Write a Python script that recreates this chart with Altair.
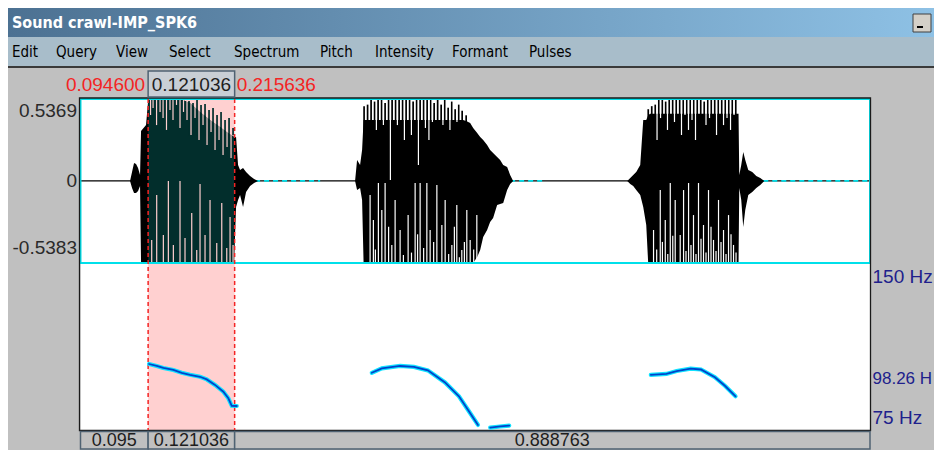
import altair as alt
import pandas as pd

# ---------------- data ----------------
WINDOW_TITLE = "Sound crawl-IMP_SPK6"
MENU_ITEMS = ["Edit", "Query", "View", "Select", "Spectrum", "Pitch", "Intensity", "Formant", "Pulses"]
MENU_X = [4, 48, 108, 161, 226, 312, 367, 444, 521]

DURATION = 1.104399
SEL_START = 0.0946
SEL_END = 0.215636
AMP_MAX = 0.5369
AMP_MIN = -0.5383
F0_TOP = 150
F0_BOTTOM = 75
F0_MARK = 98.26

TOP_LABELS = ["0.094600", "0.121036", "0.215636"]
BOTTOM_LABELS = ["0.095", "0.121036", "0.888763"]
AMP_LABELS = ["0.5369", "0", "-0.5383"]
F0_LABELS = ["150 Hz", "98.26 H", "75 Hz"]

# waveform envelope: main mass (time s, upper amplitude, lower amplitude)
ENV_T = [0.0693, 0.0721, 0.0749, 0.0777, 0.0805, 0.0833, 0.0847, 0.0917, 0.0947, 0.0973, 0.1392, 0.1532,
         0.1672, 0.1812, 0.1952, 0.2064, 0.2148, 0.2176, 0.2204, 0.2232, 0.2274, 0.2316, 0.2372, 0.2428, 0.2484,
         0.3841, 0.3869, 0.3911, 0.3939, 0.3960, 0.3995, 0.5353, 0.5409, 0.5451, 0.5493, 0.5549, 0.5591,
         0.5633, 0.5688, 0.5730, 0.5772, 0.5828, 0.5870, 0.5913, 0.5968, 0.6010, 0.6052,
         0.7648, 0.7690, 0.7732, 0.7774, 0.7830, 0.7872, 0.7914, 0.7941, 0.7969, 0.8011, 0.9205, 0.9215,
         0.9243, 0.9271, 0.9299, 0.9341, 0.9397, 0.9453, 0.9509, 0.9565]
ENV_TOP = [0, 0.058, 0.117, 0.111, 0.085, 0.039, 0.327, 0.366, 0.530, 0.537, 0.537, 0.511,
           0.451, 0.399, 0.353, 0.314, 0.288, 0.288, 0.104, 0.071, 0.085, 0.058, 0.032, 0.012, 0,
           0, 0.137, 0.104, 0.203, 0.400, 0.400, 0.400, 0.390, 0.380, 0.347, 0.314, 0.288,
           0.268, 0.235, 0.203, 0.183, 0.157, 0.137, 0.104, 0.091, 0.039, 0,
           0, 0.019, 0.039, 0.058, 0.104, 0.399, 0.400, 0.430, 0.440, 0.440, 0.440, 0.039,
           0.104, 0.189, 0.137, 0.071, 0.058, 0.032, 0.019, 0]
ENV_BOT = [0, -0.047, -0.079, -0.079, -0.066, -0.033, -0.538, -0.538, -0.538, -0.538, -0.538, -0.538,
           -0.538, -0.538, -0.538, -0.538, -0.538, -0.171, -0.125, -0.092, -0.171, -0.073, -0.033, -0.014, 0,
           0, -0.060, -0.047, -0.125, -0.538, -0.538, -0.538, -0.538, -0.538, -0.538, -0.499, -0.453,
           -0.368, -0.322, -0.269, -0.243, -0.158, -0.151, -0.145, -0.060, -0.020, 0,
           0, -0.020, -0.033, -0.060, -0.092, -0.171, -0.289, -0.538, -0.538, -0.538, -0.538, -0.047,
           -0.125, -0.302, -0.191, -0.092, -0.073, -0.047, -0.027, 0]

# single-period peaks rising above the main mass
SPIKE_T = [0.1518, 0.1574, 0.1630, 0.1686, 0.1742, 0.1798, 0.1854, 0.1910, 0.1966, 0.2022, 0.2078, 0.2134,
           0.3967, 0.4016, 0.4065, 0.4114, 0.4163, 0.4212, 0.4261, 0.4310, 0.4359, 0.4408, 0.4457, 0.4506,
           0.4555, 0.4604, 0.4653, 0.4702, 0.4751, 0.4800, 0.4849, 0.4898, 0.4947, 0.4996, 0.5045, 0.5094,
           0.5143, 0.5192, 0.5241, 0.5290, 0.5339, 0.5395,
           0.7942, 0.7991, 0.8040, 0.8089, 0.8138, 0.8186, 0.8235, 0.8284, 0.8333, 0.8382, 0.8431, 0.8480,
           0.8529, 0.8578, 0.8627, 0.8676, 0.8725, 0.8774, 0.8823, 0.8872, 0.8921, 0.8970, 0.9019, 0.9068,
           0.9117, 0.9166]
SPIKE_A = [0.524, 0.511, 0.530, 0.498, 0.504, 0.465, 0.478, 0.432, 0.452, 0.399, 0.412, 0.347,
           0.49, 0.50, 0.537, 0.52, 0.537, 0.537, 0.51, 0.537, 0.537, 0.537, 0.53, 0.537,
           0.537, 0.537, 0.52, 0.537, 0.537, 0.537, 0.537, 0.537, 0.51, 0.537, 0.50, 0.537,
           0.48, 0.52, 0.47, 0.50, 0.46, 0.43,
           0.47, 0.49, 0.50, 0.537, 0.537, 0.52, 0.537, 0.537, 0.537, 0.537, 0.53, 0.537,
           0.537, 0.537, 0.537, 0.537, 0.52, 0.537, 0.537, 0.537, 0.537, 0.53, 0.537, 0.537,
           0.537, 0.537]

# light gaps between glottal pulses (from top edge down to amplitude / from bottom edge up to amplitude)
GAP_TOP_T = [0.0980, 0.1015, 0.1064, 0.1113, 0.1155, 0.1203, 0.1252, 0.1294, 0.1343, 0.1392, 0.1441, 0.1490,
             0.1546, 0.1602, 0.1658, 0.1714, 0.1770, 0.1826, 0.1882, 0.1938, 0.1994, 0.2050, 0.2106,
             0.4139, 0.4237, 0.4335, 0.4433, 0.4531, 0.4629, 0.4727, 0.4825, 0.4874, 0.4923, 0.5070, 0.5168,
             0.5266,
             0.8065, 0.8114, 0.8211, 0.8309, 0.8407, 0.8456, 0.8505, 0.8554, 0.8603, 0.8750, 0.8799, 0.8897,
             0.8995, 0.9044, 0.9093, 0.9142]
GAP_TOP_A = [0.432, 0.478, 0.366, 0.452, 0.412, 0.334, 0.465, 0.399, 0.498, 0.347, 0.452, 0.399,
             0.301, 0.412, 0.268, 0.366, 0.235, 0.321, 0.203, 0.268, 0.170, 0.222, 0.150,
             0.334, 0.366, 0.006, 0.366, 0.268, 0.301, 0.104, 0.347, 0.268, 0.386, 0.366, 0.334,
             0.386,
             0.268, 0.412, 0.334, 0.386, 0.301, 0.432, 0.334, 0.399, 0.268, 0.366, 0.412, 0.301,
             0.366, 0.412, 0.334, 0.432]
GAP_BOT_T = [0.0996, 0.1066, 0.1159, 0.1229, 0.1299, 0.1392, 0.1462, 0.1556, 0.1626, 0.1672, 0.1742, 0.1812,
             0.1906, 0.1976, 0.2046, 0.2092, 0.2134,
             0.4051, 0.4097, 0.4125, 0.4167, 0.4215, 0.4261, 0.4310, 0.4355, 0.4401, 0.4471, 0.4517, 0.4583,
             0.4630, 0.4681, 0.4715, 0.4751, 0.4800, 0.4845, 0.4891, 0.4940, 0.4985, 0.5055, 0.5101, 0.5150,
             0.5195, 0.5230, 0.5264, 0.5300, 0.5334, 0.5370, 0.5404, 0.5451, 0.5500, 0.5544,
             0.8016, 0.8060, 0.8110, 0.8140, 0.8180, 0.8215, 0.8250, 0.8285, 0.8319, 0.8389, 0.8436, 0.8470,
             0.8506, 0.8540, 0.8575, 0.8610, 0.8645, 0.8680, 0.8715, 0.8750, 0.8785, 0.8820, 0.8855, 0.8890,
             0.8925, 0.8960, 0.8995, 0.9030, 0.9065, 0.9100, 0.9135, 0.9170]
GAP_BOT_A = [-0.387, -0.092, -0.355, -0.001, -0.420, -0.001, -0.374, -0.210, -0.453, -0.020, -0.355, -0.125,
             -0.407, -0.145, -0.440, -0.237, -0.420,
             -0.092, -0.256, -0.450, -0.014, -0.191, -0.014, -0.300, -0.420, -0.125, -0.322, -0.486, -0.224,
             -0.470, -0.014, -0.350, -0.014, -0.440, -0.014, -0.322, -0.400, -0.027, -0.289, -0.125, -0.480,
             -0.420, -0.300, -0.158, -0.500, -0.453, -0.400, -0.191, -0.387, -0.450, -0.224,
             -0.322, -0.450, -0.060, -0.400, -0.256, -0.480, -0.014, -0.360, -0.125, -0.355, -0.060, -0.460,
             -0.014, -0.420, -0.224, -0.480, -0.014, -0.380, -0.289, -0.470, -0.060, -0.300, -0.387, -0.460,
             -0.125, -0.400, -0.322, -0.480, -0.224, -0.350, -0.420, -0.470]

# near-silent stretches drawn in cyan along the zero line
CYAN_T0 = [0.2442, 0.6010, 0.9551]
CYAN_T1 = [0.3352, 0.6500, 1.1034]

# pitch contour
PITCH_SEG = [1] * 13 + [2] * 9 + [3] * 3 + [4] * 8
PITCH_T = [0.0959, 0.1066, 0.1159, 0.1299, 0.1416, 0.1532, 0.1672, 0.1766, 0.1882, 0.1998, 0.2068, 0.2116, 0.2186,
           0.4075, 0.4215, 0.4471, 0.4664, 0.4859, 0.5099, 0.5294, 0.5438, 0.5560,
           0.5731, 0.5871, 0.5997,
           0.7978, 0.8196, 0.8340, 0.8535, 0.8679, 0.8874, 0.9018, 0.9163]
PITCH_HZ = [105.0, 104.1, 103.2, 102.3, 101.0, 100.1, 99.2, 98.0, 95.5, 92.4, 89.4, 86.0, 85.9,
            101.0, 103.0, 104.1, 103.7, 102.1, 96.6, 90.3, 83.3, 77.3,
            76.1, 76.6, 77.0,
            100.1, 100.5, 101.8, 102.9, 102.5, 99.0, 95.0, 90.3]

# ---------------- layout ----------------
W, H = 926, 442
PANEL_X0, PANEL_X1 = 72.5, 862.0
WAVE_Y0, WAVE_Y1 = 91.0, 255.0
PITCH_Y0, PITCH_Y1 = 257.0, 422.0

pps = (PANEL_X1 - PANEL_X0) / DURATION
XS = alt.Scale(domain=[-PANEL_X0 / pps, (W - PANEL_X0) / pps], nice=False, zero=False)
ppa = (WAVE_Y1 - WAVE_Y0) / (AMP_MAX - AMP_MIN)
AS = alt.Scale(domain=[AMP_MAX - (H - WAVE_Y0) / ppa, AMP_MAX + WAVE_Y0 / ppa], nice=False, zero=False)
pph = (PITCH_Y1 - PITCH_Y0) / (F0_TOP - F0_BOTTOM)
HS = alt.Scale(domain=[F0_BOTTOM - (H - PITCH_Y1) / pph, F0_TOP + PITCH_Y0 / pph], nice=False, zero=False)

NUM_FONT = "Liberation Sans, Arial, sans-serif"
UI_FONT = "DejaVu Sans Condensed, DejaVu Sans, sans-serif"
GRAY = "#C0C0C0"
PINK = "#FFD0D0"
TEAL = "#022E2C"
CYAN = "#00E0EA"
RED = "#F42424"
NAVY = "#20208C"

one = pd.DataFrame({"k": [0]})


def rect_px(x0, x1, y0, y1, **kw):
    return alt.Chart(one).mark_rect(**kw).encode(
        x=alt.value(x0), x2=alt.value(x1), y=alt.value(y0), y2=alt.value(y1))


def text_px(x, y, s, **kw):
    return alt.Chart(one).mark_text(**kw).encode(x=alt.value(x), y=alt.value(y), text=alt.value(s))


in_sel = f"datum.t >= {SEL_START} && datum.t <= {SEL_END}"
layers = []

# title bar
layers.append(rect_px(0, W, 0, 29, color=alt.Gradient(
    gradient="linear",
    stops=[alt.GradientStop(color="#4C7192", offset=0), alt.GradientStop(color="#8EC1E5", offset=1)],
    x1=0, x2=1, y1=0, y2=0)))
layers.append(text_px(4, 15, WINDOW_TITLE, align="left", baseline="middle", font=UI_FONT,
                      fontSize=16, fontWeight="bold", color="white"))
layers.append(rect_px(905, 923, 6, 24, color="#D4D0C8", stroke="#404040", strokeWidth=1))
layers.append(rect_px(909, 915, 18, 20, color="black"))

# menu bar
layers.append(rect_px(0, W, 29, 58, color="#A8BDCA"))
for lab, px in zip(MENU_ITEMS, MENU_X):
    layers.append(text_px(px, 44, lab, align="left", baseline="middle", font=UI_FONT,
                          fontSize=15, color="black"))
layers.append(rect_px(0, W, 58, 60, color="#3A3A3A"))

# panels
panel = pd.DataFrame({"t0": [0.0], "t1": [DURATION]})
sel = pd.DataFrame({"t0": [SEL_START], "t1": [SEL_END]})
layers.append(alt.Chart(panel).mark_rect(color="white").encode(
    x=alt.X("t0:Q", scale=XS, axis=None), x2="t1:Q",
    y=alt.value(WAVE_Y0), y2=alt.value(PITCH_Y1)))
layers.append(alt.Chart(sel).mark_rect(color=PINK).encode(
    x=alt.X("t0:Q", scale=XS, axis=None), x2="t1:Q",
    y=alt.value(WAVE_Y0), y2=alt.value(PITCH_Y1)))

# zero line and quiet stretches
zero = pd.DataFrame({"t0": [0.0], "t1": [DURATION], "a": [0.0]})
layers.append(alt.Chart(zero).mark_rule(color="black", strokeWidth=1.3).encode(
    x=alt.X("t0:Q", scale=XS, axis=None), x2="t1:Q", y=alt.Y("a:Q", scale=AS, axis=None)))
cy = pd.DataFrame({"t0": CYAN_T0, "t1": CYAN_T1, "a": [0.0] * len(CYAN_T0)})
layers.append(alt.Chart(cy).mark_rule(color=CYAN, strokeWidth=1.6, strokeDash=[5, 4]).encode(
    x=alt.X("t0:Q", scale=XS, axis=None), x2="t1:Q", y=alt.Y("a:Q", scale=AS, axis=None)))

# waveform
env = pd.DataFrame({"t": ENV_T, "top": ENV_TOP, "bot": ENV_BOT})
wave = alt.Chart(env).encode(
    x=alt.X("t:Q", scale=XS, axis=None), y=alt.Y("top:Q", scale=AS, axis=None), y2="bot:Q")
layers.append(wave.mark_area(color="black", interpolate="linear"))
layers.append(wave.mark_area(color=TEAL, interpolate="linear").transform_filter(in_sel))

spikes = pd.DataFrame({"t": SPIKE_T, "a": SPIKE_A})
layers.append(alt.Chart(spikes).mark_rule(strokeWidth=1.7).transform_calculate(
    base="0.3", col=f"{in_sel} ? '{TEAL}' : '#000000'").encode(
    x=alt.X("t:Q", scale=XS, axis=None), y=alt.Y("a:Q", scale=AS, axis=None), y2="base:Q",
    color=alt.Color("col:N", scale=None)))

sel_color = f"{in_sel} ? '{PINK}' : '#FFFFFF'"
gt = pd.DataFrame({"t": GAP_TOP_T, "a": GAP_TOP_A})
layers.append(alt.Chart(gt).mark_rule(strokeWidth=1.2).transform_calculate(
    edge=f"{AMP_MAX}", col=sel_color).encode(
    x=alt.X("t:Q", scale=XS, axis=None), y=alt.Y("a:Q", scale=AS, axis=None), y2="edge:Q",
    color=alt.Color("col:N", scale=None)))
gb = pd.DataFrame({"t": GAP_BOT_T, "a": GAP_BOT_A})
layers.append(alt.Chart(gb).mark_rule(strokeWidth=1.2).transform_calculate(
    edge=f"{AMP_MIN}", col=sel_color).encode(
    x=alt.X("t:Q", scale=XS, axis=None), y=alt.Y("a:Q", scale=AS, axis=None), y2="edge:Q",
    color=alt.Color("col:N", scale=None)))

# waveform frame (cyan) and panel frame (black)
wf = pd.DataFrame({"t0": [0.0], "t1": [DURATION], "a0": [AMP_MAX], "a1": [AMP_MIN]})
layers.append(alt.Chart(wf).mark_rect(fillOpacity=0, stroke=CYAN, strokeWidth=2).encode(
    x=alt.X("t0:Q", scale=XS, axis=None), x2="t1:Q",
    y=alt.Y("a0:Q", scale=AS, axis=None), y2="a1:Q"))
layers.append(rect_px(PANEL_X0 - 1, PANEL_X1 + 0.5, WAVE_Y0 - 1, PITCH_Y1 + 0.5,
                      fillOpacity=0, stroke="#1A1A1A", strokeWidth=1.3))

# selection edges
edges = pd.DataFrame({"t": [SEL_START, SEL_END]})
layers.append(alt.Chart(edges).mark_rule(color=RED, strokeWidth=1.5, strokeDash=[4, 3]).encode(
    x=alt.X("t:Q", scale=XS, axis=None), y=alt.value(WAVE_Y0), y2=alt.value(PITCH_Y1)))

# pitch
pdf = pd.DataFrame({"seg": PITCH_SEG, "t": PITCH_T, "hz": PITCH_HZ})
pbase = alt.Chart(pdf).encode(x=alt.X("t:Q", scale=XS, axis=None),
                              y=alt.Y("hz:Q", scale=HS, axis=None), detail="seg:N")
layers.append(pbase.mark_line(color="#10E2FF", strokeWidth=4.2, strokeCap="round"))
layers.append(pbase.mark_line(color="#0042CC", strokeWidth=1.8, strokeCap="round"))


# amplitude labels (left)
def amp_label(val, s, baseline, dy):
    df = pd.DataFrame({"a": [val], "s": [s]})
    return alt.Chart(df).mark_text(align="right", baseline=baseline, dy=dy, font=NUM_FONT,
                                   fontSize=19, color="#2A2A2A").encode(
        x=alt.value(PANEL_X0 - 3.5), y=alt.Y("a:Q", scale=AS, axis=None), text="s:N")


layers.append(amp_label(AMP_MAX, AMP_LABELS[0], "top", 3))
layers.append(amp_label(0.0, AMP_LABELS[1], "middle", 0))
layers.append(amp_label(AMP_MIN, AMP_LABELS[2], "bottom", -5))


# pitch labels (right)
def hz_label(val, s, baseline, dy, size=19):
    df = pd.DataFrame({"h": [val], "s": [s]})
    return alt.Chart(df).mark_text(align="left", baseline=baseline, dy=dy, font=NUM_FONT,
                                   fontSize=size, color=NAVY).encode(
        x=alt.value(PANEL_X1 + 2.5), y=alt.Y("h:Q", scale=HS, axis=None), text="s:N")


layers.append(hz_label(F0_TOP, F0_LABELS[0], "top", 3))
layers.append(hz_label(F0_MARK, F0_LABELS[1], "middle", 0, size=17))
layers.append(hz_label(F0_BOTTOM, F0_LABELS[2], "bottom", -2))

# top time row
top_df = pd.DataFrame({"t0": [SEL_START], "t1": [SEL_END], "s": [TOP_LABELS[1]]})
layers.append(alt.Chart(top_df).mark_rect(color="#C9CFD5", stroke="#4F6272", strokeWidth=1.5).encode(
    x=alt.X("t0:Q", scale=XS, axis=None), x2="t1:Q", y=alt.value(63), y2=alt.value(89)))
layers.append(alt.Chart(top_df).mark_text(font=NUM_FONT, fontSize=19, color="#1E1E1E",
                                          baseline="middle").transform_calculate(
    mid="(datum.t0 + datum.t1) / 2").encode(
    x=alt.X("mid:Q", scale=XS, axis=None), y=alt.value(77), text="s:N"))
left_df = pd.DataFrame({"t": [SEL_START], "s": [TOP_LABELS[0]]})
layers.append(alt.Chart(left_df).mark_text(font=NUM_FONT, fontSize=19, color=RED, align="right",
                                           baseline="middle", dx=-3).encode(
    x=alt.X("t:Q", scale=XS, axis=None), y=alt.value(77), text="s:N"))
right_df = pd.DataFrame({"t": [SEL_END], "s": [TOP_LABELS[2]]})
layers.append(alt.Chart(right_df).mark_text(font=NUM_FONT, fontSize=19, color=RED, align="left",
                                            baseline="middle", dx=2).encode(
    x=alt.X("t:Q", scale=XS, axis=None), y=alt.value(77), text="s:N"))

# bottom duration bar
bot_df = pd.DataFrame({"t0": [0.0, SEL_START, SEL_END], "t1": [SEL_START, SEL_END, DURATION],
                       "s": BOTTOM_LABELS})
layers.append(alt.Chart(bot_df).mark_rect(color=GRAY, stroke="#4F6272", strokeWidth=1.5).encode(
    x=alt.X("t0:Q", scale=XS, axis=None), x2="t1:Q", y=alt.value(423.5), y2=alt.value(441)))
layers.append(alt.Chart(bot_df).mark_text(font=NUM_FONT, fontSize=18, color="#1E1E1E",
                                          baseline="middle").transform_calculate(
    mid="(datum.t0 + datum.t1) / 2").encode(
    x=alt.X("mid:Q", scale=XS, axis=None), y=alt.value(433), text="s:N"))

chart = alt.layer(*layers).resolve_scale(y="independent").properties(
    width=W, height=H, padding=0, autosize=alt.AutoSizeParams(type="none"),
    background=GRAY,
).configure_view(stroke=None)

chart.save("out.html", embed_options={"renderer": "svg", "actions": False})
